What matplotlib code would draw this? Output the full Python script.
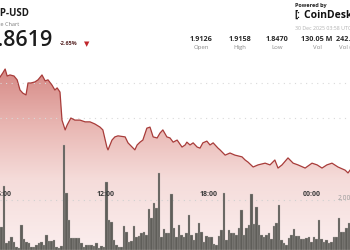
import numpy as np
import matplotlib
matplotlib.use("Agg")
import matplotlib.pyplot as plt
from matplotlib.colors import LinearSegmentedColormap

plt.rcParams['font.family'] = ['Open Sans', 'DejaVu Sans']

# minutes after 05:50 (29 Dec) -> price in USD
t_price = [0, 10, 18, 25, 35, 49, 60, 70, 80, 91,
           98, 108, 122, 133, 147, 158, 168, 182, 192, 200,
           210, 217, 228, 235, 248, 262, 280, 298, 315, 332,
           350, 360, 374, 378, 392, 402, 413, 438, 448, 466,
           472, 480, 490, 500, 514, 525, 536, 550, 560, 570,
           584, 595, 606, 620, 637, 648, 654, 665, 676, 690,
           700, 710, 724, 735, 746, 763, 770, 788, 805, 822,
           847, 858, 868, 886, 903, 928, 945, 962, 973, 987,
           1008, 1026, 1043, 1068, 1092, 1110, 1127, 1144, 1162, 1183,
           1208, 1218, 1225]
price = [1.9117, 1.9129, 1.9140, 1.9120, 1.9123, 1.9120, 1.9109, 1.9080, 1.9071, 1.9066,
         1.9100, 1.9100, 1.9103, 1.9109, 1.9123, 1.9106, 1.9109, 1.9094, 1.9080, 1.9086,
         1.9074, 1.8994, 1.8966, 1.8980, 1.9000, 1.8994, 1.8994, 1.8989, 1.8989, 1.8983,
         1.8974, 1.8966, 1.8917, 1.8909, 1.8937, 1.8946, 1.8949, 1.8946, 1.8929, 1.8914,
         1.8909, 1.8923, 1.8931, 1.8937, 1.8971, 1.8974, 1.8946, 1.8943, 1.8957, 1.8966,
         1.8946, 1.8943, 1.8931, 1.8937, 1.8917, 1.8923, 1.8931, 1.8923, 1.8929, 1.8917,
         1.8914, 1.8929, 1.8934, 1.8923, 1.8929, 1.8914, 1.8909, 1.8894, 1.8900, 1.8894,
         1.8889, 1.8880, 1.8874, 1.8860, 1.8866, 1.8871, 1.8866, 1.8880, 1.8857, 1.8866,
         1.8886, 1.8871, 1.8866, 1.8857, 1.8871, 1.8866, 1.8857, 1.8866, 1.8871, 1.8860,
         1.8851, 1.8843, 1.8851]

# volume per bar, millions
volume = [0.92, 2.56, 0.28, 0.36, 0.52, 0.32, 0.12, 0.08, 1.00, 0.44,
          0.32, 0.28, 0.12, 0.12, 0.20, 0.28, 0.32, 0.20, 0.60, 0.36,
          0.36, 0.40, 0.12, 0.08, 0.16, 4.20, 2.28, 1.20, 0.48, 0.48,
          0.48, 0.48, 0.28, 0.12, 0.20, 0.20, 0.20, 0.16, 0.28, 0.08,
          0.16, 0.12, 2.72, 1.20, 1.12, 0.40, 0.20, 0.12, 0.12, 0.96,
          0.72, 0.32, 0.36, 0.96, 0.52, 0.56, 0.68, 0.72, 0.60, 1.64,
          1.28, 1.88, 1.68, 3.08, 0.52, 0.84, 0.68, 0.68, 2.24, 0.88,
          0.52, 1.00, 0.60, 0.52, 0.68, 1.40, 0.60, 0.40, 0.68, 1.08,
          0.72, 0.32, 0.56, 0.52, 0.52, 0.24, 0.20, 0.56, 0.80, 2.28,
          0.40, 0.80, 0.68, 0.68, 0.60, 0.88, 1.60, 0.60, 0.88, 1.00,
          2.24, 1.04, 1.72, 1.00, 0.60, 0.52, 0.60, 0.68, 0.44, 0.96,
          1.08, 1.80, 0.40, 0.28, 0.20, 0.48, 0.60, 0.84, 0.56, 0.56,
          0.44, 0.44, 0.48, 0.52, 0.32, 0.52, 0.44, 1.20, 0.44, 0.32,
          0.40, 0.28, 0.32, 0.52, 0.52, 1.28, 0.72, 0.72, 0.88, 1.08]
bar_minutes = 8.75

tick_pos = [10, 370, 730, 1090]
tick_labels = ["06:00", "12:00", "18:00", "00:00"]
price_grid = [1.90, 1.91]
vol_grid = 2.0

stat_values = ["1.9126", "1.9158", "1.8470", "130.05 M", "242.61 M"]
stat_names = ["Open", "High", "Low", "Vol", "Vol (USD)"]

fig = plt.figure(figsize=(3.5, 2.5), dpi=100)
ax = fig.add_axes([0, 0, 1, 1])
ax.set_xlim(0, 1225)
ax.set_ylim(1.86229, 1.93371)
ax.axis("off")

# gradient under the price line
cmap = LinearSegmentedColormap.from_list(
    "fill", [(0.0, "#fbeeee"), (0.28, "#f5dcda"), (0.48, "#eabab6"), (0.72, "#d68a86"), (1.0, "#cc7672")])
grad = np.linspace(0, 1, 256).reshape(-1, 1)
img = ax.imshow(grad, cmap=cmap, origin="lower", aspect="auto",
                extent=[0, 1225, 1.86229, 1.93371], zorder=1)
poly = ax.fill_between(t_price, price, 1.86229, color="none", lw=0)
path = poly.get_paths()[0]
img.set_clip_path(path, ax.transData)
for g in price_grid:
    ax.axhline(g, color="#d9d9d9", lw=0.8, ls=(0, (1, 4)), zorder=2)
ax.plot(t_price, price, color="#a83c3a", lw=0.9, zorder=5)

ax2 = ax.twinx()
ax2.set_ylim(0, 10)
ax2.axis("off")
ax2.axhline(vol_grid, color="#d0d0d0", lw=0.8, ls=(0, (1, 4)), zorder=1)
xb = (np.arange(len(volume)) + 0.5) * bar_minutes
ax2.bar(xb, volume, width=bar_minutes, color="#5f5e59", edgecolor="#b8b2b0",
        lw=0.2, zorder=3)
for p, lab in zip(tick_pos, tick_labels):
    ax2.text(p, 2.2, lab, ha="center", va="center", fontsize=5, fontweight="bold",
             color="#3a3a3a", zorder=6)
ax2.text(1183, vol_grid + 0.05, "2,000,000", ha="left", va="center", fontsize=4.8,
         color="#9a9a9a", zorder=6)

# header
fig.text(29 / 350, 1 - 14 / 250, "XRP-USD", ha="right", va="center", fontsize=7,
         fontweight="bold", color="#1c1c1c")
fig.text(19 / 350, 1 - 24 / 250, "Price Chart", ha="right", va="center", fontsize=4,
         color="#7a7a7a")
fig.text(53 / 350, 1 - 40 / 250, "1.8619", ha="right", va="center", fontsize=15.5,
         fontweight="semibold", color="#1c1c1c")
fig.text(60 / 350, 1 - 44 / 250, "-2.65%", ha="left", va="center", fontsize=4,
         fontweight="bold", color="#5a2a2a")
fig.text(87 / 350, 1 - 44 / 250, "\u25bc", ha="center", va="center", fontsize=5,
         color="#c0262b", family="DejaVu Sans")

fig.text(295 / 350, 1 - 5 / 250, "Powered by", ha="left", va="center", fontsize=4,
         fontweight="bold", color="#222222")
fig.text(294 / 350, 1 - 15.5 / 250, "[:", ha="left", va="center", fontsize=7,
         fontweight="bold", color="#111111")
fig.text(304 / 350, 1 - 15.5 / 250, "CoinDesk Data", ha="left", va="center", fontsize=7.5,
         fontweight="bold", color="#111111")
fig.text(295 / 350, 1 - 29 / 250, "30 Dec 2025 03:58 UTC", ha="left", va="center",
         fontsize=3.8, color="#b0b0b0")
for cx, v, n in zip([201, 240, 277, 317, 352], stat_values, stat_names):
    fig.text(cx / 350, 1 - 39.5 / 250, v, ha="center", va="center", fontsize=5.2,
             fontweight="bold", color="#2a2a2a")
    fig.text(cx / 350, 1 - 47.5 / 250, n, ha="center", va="center", fontsize=4.3,
             color="#8a8a8a")

fig.savefig("out.png", dpi=100)
